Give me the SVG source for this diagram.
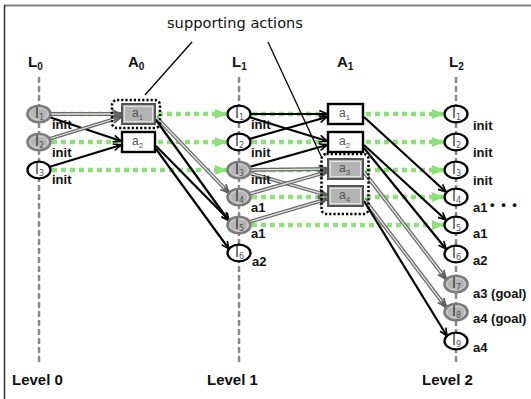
<svg xmlns="http://www.w3.org/2000/svg" width="531" height="399" viewBox="0 0 531 399">
<defs>
<marker id="mb" viewBox="0 0 10 10" refX="9.5" refY="5" markerWidth="9" markerHeight="9" markerUnits="userSpaceOnUse" orient="auto"><path d="M1,1.2 L9.5,5 L1,8.8" fill="none" stroke="#000" stroke-width="1.8"/></marker>
<marker id="mg" viewBox="0 0 10 10" refX="9.5" refY="5" markerWidth="10" markerHeight="10" markerUnits="userSpaceOnUse" orient="auto"><path d="M1,1.2 L9.5,5 L1,8.8" fill="none" stroke="#5e5e5e" stroke-width="1.8"/></marker>
<marker id="mgr" viewBox="0 0 12 10" refX="12" refY="5" markerWidth="12" markerHeight="10" markerUnits="userSpaceOnUse" orient="auto"><path d="M0,0 L12,5 L0,10 Z" fill="#8de07a"/></marker>
</defs>
<style>
.ft{stroke:#808080;stroke-width:2}
.fl{stroke:#333;stroke-width:1.5}
.vl{stroke:#8a8a8a;stroke-width:2.5;stroke-dasharray:6 3;fill:none}
.gr{stroke:#8de07a;stroke-width:4.5;stroke-dasharray:5 4;fill:none}
.gra{marker-end:url(#mgr)}
.bk{stroke:#000;stroke-width:2.2;fill:none;marker-end:url(#mb)}
.go{stroke:#6a6a6a;stroke-width:3.8;fill:none;marker-end:url(#mg)}
.gi{stroke:#e6e6e6;stroke-width:1.3;fill:none}
.cl{stroke:#000;stroke-width:1.3;fill:none}
.nw{fill:#fff;stroke:#000;stroke-width:2.3}
.ng{fill:#b5b5b5;stroke:#7c7c7c;stroke-width:2.6}
.ngi{fill:none;stroke:#dedede;stroke-width:0.8}
.bw{fill:#fff;stroke:#000;stroke-width:2.4}
.bg{fill:#b3b3b3;stroke:#555;stroke-width:2}
.bgi{fill:none;stroke:#e2e2e2;stroke-width:1}
.dt{fill:none;stroke:#000;stroke-width:2.5;stroke-dasharray:2.2 2}
.lt{font-family:"DejaVu Sans",sans-serif;font-size:14px;fill:#333}
.at{font-family:"Liberation Sans",Arial,sans-serif;font-size:12px;fill:#555}
.sub{font-size:8px;fill:#555}
.lb{font-family:"Liberation Sans",Arial,sans-serif;font-size:13px;font-weight:bold;fill:#111}
.hd{font-family:"Liberation Sans",Arial,sans-serif;font-size:15px;font-weight:bold;fill:#111}
.hs{font-size:10px}
.lv{font-family:"Liberation Sans",Arial,sans-serif;font-size:15px;font-weight:bold;fill:#111}
.sa{font-family:"DejaVu Sans",sans-serif;font-size:14px;fill:#111}
</style>

<g id="frame">
<line x1="4" y1="5.5" x2="531" y2="5.5" class="ft"/>
<line x1="4.5" y1="5" x2="4.5" y2="399" class="fl"/>
</g>

<g id="level-lines">
<line x1="39" y1="77" x2="39" y2="363" class="vl"/>
<line x1="239" y1="77" x2="239" y2="363" class="vl"/>
<line x1="456" y1="77" x2="456" y2="365" class="vl"/>
</g>

<g id="headers">
<text x="28" y="67" class="hd">L<tspan class="hs" dy="3">0</tspan></text>
<text x="128" y="67" class="hd">A<tspan class="hs" dy="3">0</tspan></text>
<text x="232" y="67" class="hd">L<tspan class="hs" dy="3">1</tspan></text>
<text x="337" y="67" class="hd">A<tspan class="hs" dy="3">1</tspan></text>
<text x="449" y="67" class="hd">L<tspan class="hs" dy="3">2</tspan></text>
<text x="167" y="28" class="sa" textLength="136" lengthAdjust="spacingAndGlyphs">supporting actions</text>
<text x="12" y="385" class="lv">Level 0</text>
<text x="207" y="385" class="lv">Level 1</text>
<text x="422" y="385" class="lv">Level 2</text>
</g>

<g id="connectors">
<line x1="52" y1="114" x2="121" y2="114" class="gr"/>
<line x1="52" y1="142" x2="121" y2="142" class="gr"/>
<line x1="52" y1="170" x2="227" y2="170" class="gr gra"/>
<line x1="158" y1="114" x2="227" y2="114" class="gr gra"/>
<line x1="158" y1="142" x2="227" y2="142" class="gr gra"/>
<line x1="252" y1="114" x2="327" y2="114" class="gr"/>
<line x1="252" y1="142" x2="327" y2="142" class="gr"/>
<line x1="252" y1="170" x2="327" y2="170" class="gr"/>
<line x1="252" y1="197" x2="327" y2="197" class="gr"/>
<line x1="252" y1="225" x2="444" y2="225" class="gr gra"/>
<line x1="366" y1="114" x2="444" y2="114" class="gr gra"/>
<line x1="366" y1="142" x2="444" y2="142" class="gr gra"/>
<line x1="366" y1="170" x2="444" y2="170" class="gr gra"/>
<line x1="366" y1="197" x2="444" y2="197" class="gr gra"/>

<line x1="50" y1="114" x2="121" y2="114" class="go"/><line x1="50" y1="114" x2="114" y2="114" class="gi"/>
<line x1="49" y1="117" x2="121" y2="141" class="bk"/>
<line x1="49" y1="139" x2="121" y2="117" class="go"/><line x1="49" y1="139" x2="114.3" y2="119" class="gi"/>
<line x1="49" y1="167" x2="121" y2="145" class="bk"/>

<line x1="156" y1="117" x2="229" y2="193" class="go"/><line x1="156" y1="117" x2="224.2" y2="188" class="gi"/>
<line x1="156" y1="120" x2="229" y2="221" class="bk"/>
<line x1="156" y1="146" x2="229" y2="220" class="bk"/>
<line x1="156" y1="149" x2="229" y2="249" class="bk"/>

<line x1="250" y1="114" x2="327" y2="114" class="bk"/>
<line x1="249" y1="117" x2="327" y2="141" class="bk"/>
<line x1="249" y1="139" x2="327" y2="117" class="bk"/>
<line x1="249" y1="167" x2="327" y2="145" class="bk"/>
<line x1="250" y1="170" x2="327" y2="169" class="go"/><line x1="250" y1="170" x2="320" y2="169.1" class="gi"/>
<line x1="249" y1="173" x2="327" y2="195" class="go"/><line x1="249" y1="173" x2="320.3" y2="193.1" class="gi"/>
<line x1="249" y1="194" x2="327" y2="172" class="go"/><line x1="249" y1="194" x2="320.3" y2="173.9" class="gi"/>
<line x1="249" y1="222" x2="327" y2="199" class="go"/><line x1="249" y1="222" x2="320.3" y2="201" class="gi"/>

<line x1="364" y1="117" x2="446" y2="192" class="bk"/>
<line x1="364" y1="145" x2="446" y2="220" class="bk"/>
<line x1="364" y1="148" x2="446" y2="249" class="bk"/>
<line x1="364" y1="172" x2="446" y2="279" class="go"/><line x1="364" y1="172" x2="441.7" y2="273.5" class="gi"/>
<line x1="364" y1="199" x2="446" y2="307" class="go"/><line x1="364" y1="199" x2="441.7" y2="301.4" class="gi"/>
<line x1="364" y1="201" x2="447" y2="336" class="bk"/>

<line x1="192" y1="42" x2="145" y2="95" class="cl"/>
<line x1="268" y1="42" x2="321" y2="156" class="cl"/>
</g>

<g id="groups">
<rect x="112" y="100" width="48" height="28" rx="5" class="dt"/>
<rect x="321.5" y="154" width="47" height="60" rx="5" class="dt"/>
</g>

<g id="L0-l1"><ellipse cx="39" cy="114" rx="11.5" ry="8.3" class="ng"/><ellipse cx="39" cy="114" rx="9.2" ry="6.1" class="ngi"/><text x="35" y="118" class="lt">l<tspan class="sub" dy="2">1</tspan></text></g>
<g id="L0-l2"><ellipse cx="39" cy="142" rx="11.5" ry="8.3" class="ng"/><ellipse cx="39" cy="142" rx="9.2" ry="6.1" class="ngi"/><text x="35" y="146" class="lt">l<tspan class="sub" dy="2">2</tspan></text></g>
<g id="L0-l3"><ellipse cx="39" cy="170" rx="11.5" ry="8.3" class="nw"/><text x="35" y="174" class="lt">l<tspan class="sub" dy="2">3</tspan></text></g>

<g id="A0-a1"><rect x="122" y="104" width="33" height="20" class="bg"/><rect x="124.5" y="106.5" width="28" height="15" class="bgi"/><text x="132" y="117" class="at">a<tspan class="sub" dy="3">1</tspan></text></g>
<g id="A0-a2"><rect x="122" y="132" width="33" height="20" class="bw"/><text x="132" y="145" class="at">a<tspan class="sub" dy="3">2</tspan></text></g>

<g id="L1-l1"><ellipse cx="239" cy="114" rx="11.5" ry="8.3" class="nw"/><text x="235" y="118" class="lt">l<tspan class="sub" dy="2">1</tspan></text></g>
<g id="L1-l2"><ellipse cx="239" cy="142" rx="11.5" ry="8.3" class="nw"/><text x="235" y="146" class="lt">l<tspan class="sub" dy="2">2</tspan></text></g>
<g id="L1-l3"><ellipse cx="239" cy="170" rx="11.5" ry="8.3" class="ng"/><ellipse cx="239" cy="170" rx="9.2" ry="6.1" class="ngi"/><text x="235" y="174" class="lt">l<tspan class="sub" dy="2">3</tspan></text></g>
<g id="L1-l4"><ellipse cx="239" cy="197" rx="11.5" ry="8.3" class="ng"/><ellipse cx="239" cy="197" rx="9.2" ry="6.1" class="ngi"/><text x="235" y="201" class="lt">l<tspan class="sub" dy="2">4</tspan></text></g>
<g id="L1-l5"><ellipse cx="239" cy="225" rx="11.5" ry="8.3" class="ng"/><ellipse cx="239" cy="225" rx="9.2" ry="6.1" class="ngi"/><text x="235" y="229" class="lt">l<tspan class="sub" dy="2">5</tspan></text></g>
<g id="L1-l6"><ellipse cx="239" cy="253" rx="11.5" ry="8.3" class="nw"/><text x="235" y="257" class="lt">l<tspan class="sub" dy="2">6</tspan></text></g>

<g id="A1-a1"><rect x="328" y="104" width="35" height="20" class="bw"/><text x="339" y="117" class="at">a<tspan class="sub" dy="3">1</tspan></text></g>
<g id="A1-a2"><rect x="328" y="132" width="35" height="20" class="bw"/><text x="339" y="145" class="at">a<tspan class="sub" dy="3">2</tspan></text></g>
<g id="A1-a3"><rect x="328" y="159" width="35" height="20" class="bg"/><rect x="330.5" y="161.5" width="30" height="15" class="bgi"/><text x="339" y="172" class="at">a<tspan class="sub" dy="3">3</tspan></text></g>
<g id="A1-a4"><rect x="328" y="186" width="35" height="20" class="bg"/><rect x="330.5" y="188.5" width="30" height="15" class="bgi"/><text x="339" y="199" class="at">a<tspan class="sub" dy="3">4</tspan></text></g>

<g id="L2-l1"><ellipse cx="456" cy="114" rx="11.5" ry="8.3" class="nw"/><text x="452" y="118" class="lt">l<tspan class="sub" dy="2">1</tspan></text></g>
<g id="L2-l2"><ellipse cx="456" cy="142" rx="11.5" ry="8.3" class="nw"/><text x="452" y="146" class="lt">l<tspan class="sub" dy="2">2</tspan></text></g>
<g id="L2-l3"><ellipse cx="456" cy="170" rx="11.5" ry="8.3" class="nw"/><text x="452" y="174" class="lt">l<tspan class="sub" dy="2">3</tspan></text></g>
<g id="L2-l4"><ellipse cx="456" cy="197" rx="11.5" ry="8.3" class="nw"/><text x="452" y="201" class="lt">l<tspan class="sub" dy="2">4</tspan></text></g>
<g id="L2-l5"><ellipse cx="456" cy="225" rx="11.5" ry="8.3" class="nw"/><text x="452" y="229" class="lt">l<tspan class="sub" dy="2">5</tspan></text></g>
<g id="L2-l6"><ellipse cx="456" cy="254" rx="11.5" ry="8.3" class="nw"/><text x="452" y="258" class="lt">l<tspan class="sub" dy="2">6</tspan></text></g>
<g id="L2-l7"><ellipse cx="456" cy="284" rx="11.5" ry="8.3" class="ng"/><ellipse cx="456" cy="284" rx="9.2" ry="6.1" class="ngi"/><text x="452" y="288" class="lt">l<tspan class="sub" dy="2">7</tspan></text></g>
<g id="L2-l8"><ellipse cx="456" cy="312" rx="11.5" ry="8.3" class="ng"/><ellipse cx="456" cy="312" rx="9.2" ry="6.1" class="ngi"/><text x="452" y="316" class="lt">l<tspan class="sub" dy="2">8</tspan></text></g>
<g id="L2-l9"><ellipse cx="456" cy="341" rx="11.5" ry="8.3" class="nw"/><text x="452" y="345" class="lt">l<tspan class="sub" dy="2">9</tspan></text></g>

<g id="labels">
<text x="52" y="129" class="lb">init</text>
<text x="52" y="157" class="lb">init</text>
<text x="52" y="184" class="lb">init</text>
<text x="251" y="129" class="lb">init</text>
<text x="251" y="157" class="lb">init</text>
<text x="251" y="184" class="lb">init</text>
<text x="251" y="212" class="lb">a1</text>
<text x="251" y="238" class="lb">a1</text>
<text x="252" y="266" class="lb">a2</text>
<text x="473" y="130" class="lb">init</text>
<text x="473" y="157" class="lb">init</text>
<text x="473" y="185" class="lb">init</text>
<text x="473" y="212" class="lb">a1</text>
<text x="490" y="209" class="lb" font-size="11" word-spacing="3">• • •</text>
<text x="473" y="238" class="lb">a1</text>
<text x="473" y="265" class="lb">a2</text>
<text x="473" y="298" class="lb">a3 (goal)</text>
<text x="473" y="323" class="lb">a4 (goal)</text>
<text x="473" y="352" class="lb">a4</text>
</g>
</svg>
